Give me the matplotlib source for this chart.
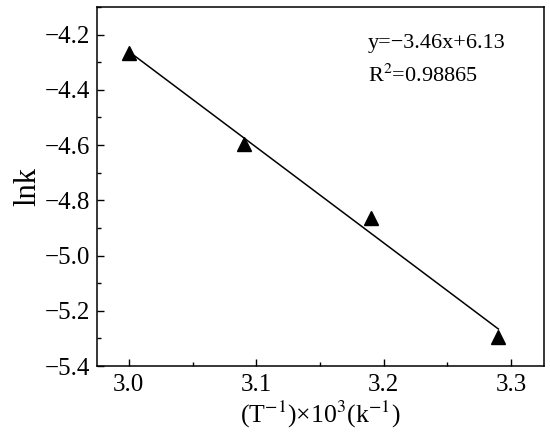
import numpy as np
import matplotlib
matplotlib.use("Agg")
import matplotlib.pyplot as plt
from matplotlib.ticker import MultipleLocator

plt.rcParams['font.family'] = ['Liberation Serif', 'DejaVu Serif']
plt.rcParams['mathtext.fontset'] = 'stix'

# data
inv_t = np.array([3.00, 3.09, 3.19, 3.29])
lnk = np.array([-4.265, -4.595, -4.865, -5.295])

slope, intercept = np.polyfit(inv_t, lnk, 1)
fit_x = np.array([inv_t.min(), inv_t.max()])

fig = plt.figure(figsize=(5.5, 4.4), dpi=100)
ax = fig.add_axes([97/550, 1 - 366/440, (544 - 97)/550, (366 - 7)/440])

ax.plot(fit_x, slope*fit_x + intercept, color='black', lw=1.1)
ax.plot(inv_t, lnk, linestyle='none', marker='^', color='black', markersize=10)

ax.set_xlim(2.975, 3.3258)
ax.set_ylim(-5.4, -4.1)
ax.xaxis.set_major_locator(MultipleLocator(0.1))
ax.xaxis.set_minor_locator(MultipleLocator(0.05))
ax.yaxis.set_major_locator(MultipleLocator(0.2))
ax.yaxis.set_minor_locator(MultipleLocator(0.1))
ax.tick_params(which='both', direction='in', labelsize=18, top=False, right=False)
ax.tick_params(which='major', length=5, width=1)
ax.tick_params(which='minor', length=3, width=1)
ax.tick_params(axis='x', pad=6)
ax.tick_params(axis='y', pad=5)
for s in ax.spines.values():
    s.set_linewidth(1.1)

ax.set_xlabel(r'(T$^{-1}$)×10$^{3}$(k$^{-1}$)', fontsize=18.5, labelpad=2)
ax.set_ylabel('lnk', fontsize=22, labelpad=2)

ax.text(0.606, 0.886, 'y=\u22123.46x+6.13', transform=ax.transAxes,
        fontsize=16, va='baseline')
ax.text(0.606, 0.791, r'R$^{2}$=0.98865', transform=ax.transAxes,
        fontsize=16, va='baseline')

fig.savefig('out.png', dpi=100)
